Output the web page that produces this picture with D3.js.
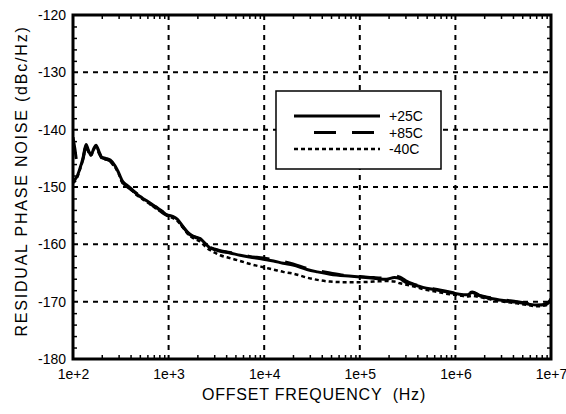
<!DOCTYPE html>
<html>
<head>
<meta charset="utf-8">
<script src="https://cdn.jsdelivr.net/npm/d3@7"></script>
<style>
  body { margin: 0; background: #fff; }
  svg text { font-family: "Liberation Sans", Arial, Helvetica, sans-serif; fill: #000; }
</style>
</head>
<body>
<div id="chart"></div>
<script>
// offset frequency (Hz), shared by all three curves
var freqs = [100, 105, 110, 118, 127, 137, 145, 154, 165, 174, 190, 200, 220, 245, 275, 300, 330, 360, 400,
  470, 530, 590, 680, 760, 850, 950, 1100, 1230, 1400, 1660, 1900, 2140, 2400, 2700, 3000, 3470, 4370,
  5600, 7000, 9800, 12500, 15800, 20000, 28000, 36000, 49000, 70000, 100000, 140000, 190000, 230000,
  263000, 300000, 360000, 457000, 600000, 870000, 1100000, 1320000, 1500000, 1800000, 2300000,
  3200000, 4400000, 5700000, 7100000, 9100000, 10000000];

// residual phase noise (dBc/Hz)
var pn25 = [-149.0, -148.7, -148.2, -146.8, -145.0, -142.6, -143.6, -144.4, -143.3, -142.7, -144.1, -144.8,
  -145.0, -145.3, -146.3, -147.5, -149.0, -149.6, -150.2, -151.3, -151.9, -152.4, -153.1, -153.7, -154.2,
  -154.8, -155.1, -155.6, -156.8, -158.3, -158.7, -159.0, -159.8, -160.6, -160.9, -161.2, -161.5, -161.9,
  -162.2, -162.6, -162.9, -163.3, -163.6, -164.4, -164.8, -165.2, -165.5, -165.7, -165.9, -166.1, -165.8,
  -166.0, -166.6, -167.0, -167.5, -167.9, -168.4, -168.7, -168.8, -168.4, -169.0, -169.4, -169.8, -170.1,
  -170.4, -170.6, -170.4, -169.6];
var pn85 = [-141.3, -143.5, -145.8, -146.5, -145.2, -142.9, -143.8, -144.2, -143.5, -143.0, -144.3, -144.9,
  -145.1, -145.5, -146.6, -147.8, -149.2, -149.8, -150.4, -151.2, -152.0, -152.6, -153.2, -153.6, -154.4,
  -154.9, -155.3, -155.8, -156.9, -158.2, -158.8, -159.1, -159.9, -160.5, -160.8, -161.1, -161.4, -161.8,
  -162.1, -162.4, -162.7, -163.0, -163.4, -164.2, -164.6, -165.0, -165.4, -165.6, -165.8, -165.9, -165.5,
  -165.7, -166.3, -166.9, -167.4, -167.8, -168.3, -168.6, -168.6, -168.3, -168.9, -169.3, -169.7, -170.0,
  -170.3, -170.5, -170.3, -169.5];
var pnM40 = [-149.3, -149.0, -148.4, -147.0, -145.3, -142.9, -143.8, -144.5, -143.5, -142.9, -144.3, -145.0,
  -145.2, -145.4, -146.5, -147.7, -149.3, -149.8, -150.4, -151.5, -152.1, -152.6, -153.3, -153.9, -154.4,
  -154.9, -155.4, -155.9, -157.0, -158.5, -159.1, -159.5, -160.3, -161.0, -161.4, -161.9, -162.4, -162.9,
  -163.4, -164.0, -164.4, -164.8, -165.1, -165.8, -166.2, -166.5, -166.6, -166.6, -166.5, -166.4, -166.5,
  -166.8, -167.0, -167.3, -167.8, -168.2, -168.7, -168.9, -169.1, -169.0, -169.2, -169.6, -170.0, -170.3,
  -170.6, -170.8, -170.6, -170.0];

var seriesNames = ["+25C", "+85C", "-40C"];
var xTicks = [1e2, 1e3, 1e4, 1e5, 1e6, 1e7];
var xTickLabels = ["1e+2", "1e+3", "1e+4", "1e+5", "1e+6", "1e+7"];
var yTicks = [-180, -170, -160, -150, -140, -130, -120];
var yTickLabels = ["-180", "-170", "-160", "-150", "-140", "-130", "-120"];

var W = 566, H = 414;
var margin = {top: 15, right: 15, bottom: 55, left: 73};
var width = W - margin.left - margin.right,
    height = H - margin.top - margin.bottom;

var svg = d3.select("#chart").append("svg")
  .attr("width", W)
  .attr("height", H);
var g = svg.append("g")
  .attr("transform", "translate(" + margin.left + "," + margin.top + ")");

var x = d3.scaleLog().domain([1e2, 1e7]).range([0, width]);
var y = d3.scaleLinear().domain([-180, -120]).range([height, 0]);

// minor ticks: 2..9 per decade, every 2 dB
var xMinor = [];
for (var d = 2; d < 7; d++) {
  for (var m = 2; m <= 9; m++) xMinor.push(m * Math.pow(10, d));
}
var yMinor = d3.range(-178, -120, 2).filter(function(v) { return v % 10 !== 0; });

// dashed grid
g.append("g").selectAll("line")
  .data(xTicks.slice(1, -1)).enter().append("line")
  .attr("x1", function(d) { return x(d); }).attr("x2", function(d) { return x(d); })
  .attr("y1", 0).attr("y2", height)
  .attr("stroke", "#000").attr("stroke-width", 2).attr("stroke-dasharray", "5,5");
g.append("g").selectAll("line")
  .data(yTicks.slice(1, -1)).enter().append("line")
  .attr("x1", 0).attr("x2", width)
  .attr("y1", function(d) { return y(d); }).attr("y2", function(d) { return y(d); })
  .attr("stroke", "#000").attr("stroke-width", 2).attr("stroke-dasharray", "5,5");

// inside minor ticks on all four sides
function minorAxis(axis, tx) {
  var a = g.append("g").attr("transform", tx).call(axis);
  a.select(".domain").remove();
  a.selectAll("text").remove();
  a.selectAll("line").attr("stroke-width", 1.5);
}
minorAxis(d3.axisBottom(x).tickValues(xMinor).tickSize(-4), "translate(0," + height + ")");
minorAxis(d3.axisTop(x).tickValues(xMinor).tickSize(-4), "translate(0,0)");
minorAxis(d3.axisLeft(y).tickValues(yMinor).tickSize(-4), "translate(0,0)");
minorAxis(d3.axisRight(y).tickValues(yMinor).tickSize(-4), "translate(" + width + ",0)");

// tick labels
var xAx = g.append("g").attr("transform", "translate(0," + height + ")")
  .call(d3.axisBottom(x).tickValues(xTicks).tickSize(0).tickPadding(10)
    .tickFormat(function(d, i) { return xTickLabels[i]; }));
xAx.select(".domain").remove();
xAx.selectAll("text").style("font-size", "14px").attr("fill", "#000");

var yAx = g.append("g")
  .call(d3.axisLeft(y).tickValues(yTicks).tickSize(0).tickPadding(7)
    .tickFormat(function(d, i) { return yTickLabels[i]; }));
yAx.select(".domain").remove();
yAx.selectAll("text").style("font-size", "14px").attr("fill", "#000");

// curves
g.append("clipPath").attr("id", "plotclip")
  .append("rect").attr("width", width).attr("height", height);

var line = d3.line()
  .x(function(d) { return x(d[0]); })
  .y(function(d) { return y(d[1]); })
  .curve(d3.curveMonotoneX);

var styles = [
  {values: pn25, dash: null, w: 3},
  {values: pn85, dash: "22,16", w: 3},
  {values: pnM40, dash: "4,3", w: 2.5}
];
var curves = g.append("g").attr("clip-path", "url(#plotclip)");
styles.slice().reverse().forEach(function(s) {
  curves.append("path")
    .datum(d3.zip(freqs, s.values))
    .attr("d", line)
    .attr("fill", "none")
    .attr("stroke", "#000")
    .attr("stroke-width", s.w)
    .attr("stroke-linejoin", "round")
    .attr("stroke-dasharray", s.dash);
});

// frame
g.append("rect")
  .attr("width", width).attr("height", height)
  .attr("fill", "none").attr("stroke", "#000").attr("stroke-width", 3);

// legend
var lg = svg.append("g").attr("transform", "translate(276,91)");
lg.append("rect").attr("width", 165).attr("height", 78)
  .attr("fill", "#fff").attr("stroke", "#000").attr("stroke-width", 1.5);
styles.forEach(function(s, i) {
  var ly = 25 + i * 16.5;
  lg.append("line")
    .attr("x1", s.dash === "22,16" ? 38 : 18).attr("x2", 104)
    .attr("y1", ly).attr("y2", ly)
    .attr("stroke", "#000").attr("stroke-width", s.w)
    .attr("stroke-dasharray", s.dash);
  lg.append("text")
    .attr("x", 113).attr("y", ly + 5)
    .style("font-size", "14px")
    .text(seriesNames[i]);
});

// axis titles
svg.append("text")
  .attr("x", margin.left + width / 2 + 2).attr("y", 400)
  .attr("text-anchor", "middle")
  .attr("xml:space", "preserve")
  .style("font-size", "16px")
  .style("letter-spacing", "0.8px")
  .text("OFFSET FREQUENCY  (Hz)");

svg.append("text")
  .attr("transform", "translate(27," + 181 + ") rotate(-90)")
  .attr("text-anchor", "middle")
  .style("font-size", "16px")
  .style("letter-spacing", "1.8px")
  .text("RESIDUAL PHASE NOISE (dBc/Hz)");
</script>
</body>
</html>
